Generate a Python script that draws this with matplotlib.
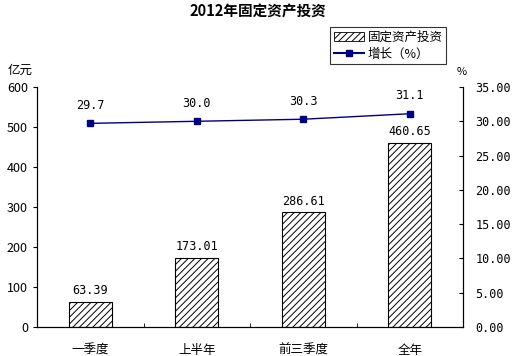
import matplotlib
matplotlib.use("Agg")
import matplotlib.pyplot as plt
from matplotlib.lines import Line2D
from matplotlib.patches import Patch

plt.rcParams['font.family'] = ['Noto Sans CJK SC', 'DejaVu Sans']
plt.rcParams['hatch.linewidth'] = 0.7

categories = ['一季度', '上半年', '前三季度', '全年']
investment = [63.39, 173.01, 286.61, 460.65]
growth = [29.7, 30.0, 30.3, 31.1]
left_ticks = [0, 100, 200, 300, 400, 500, 600]
right_ticks = [0, 5, 10, 15, 20, 25, 30, 35]

fig = plt.figure(figsize=(5.18, 3.56), dpi=100)
ax = fig.add_axes([37/518, 1-327/356, 426/518, 240/356])
ax2 = ax.twinx()

x = list(range(len(categories)))
ax.bar(x, investment, width=0.4, color='white', edgecolor='black', hatch='/////', linewidth=0.8, zorder=2)
for xi, v in zip(x, investment):
    ax.text(xi, v + 12, f'{v:.2f}', ha='center', va='bottom', fontsize=8.5, family='DejaVu Sans Mono')

ax2.plot(x, growth, color='#000080', marker='s', markersize=4.5, linewidth=1.0,
         markerfacecolor='#000080', zorder=3)
for xi, v in zip(x, growth):
    ax2.text(xi, v + 1.7, f'{v:.1f}', ha='center', va='bottom', fontsize=8.5, family='DejaVu Sans Mono')

ax.set_xlim(-0.5, len(categories) - 0.5)
ax.set_ylim(0, 600)
ax2.set_ylim(0, 35)
ax.set_yticks(left_ticks)
ax.set_yticklabels([str(t) for t in left_ticks], fontsize=9)
ax2.set_yticks(right_ticks)
ax2.set_yticklabels([f'{t:.2f}' for t in right_ticks], fontsize=8.5, family='DejaVu Sans Mono')
ax.set_xticks(x)
ax.set_xticklabels(categories, fontsize=9)
ax.tick_params(axis='x', length=0, pad=12)
ax.set_xticks([0.5, 1.5, 2.5], minor=True)
ax.tick_params(axis='x', which='minor', direction='in', length=3)
ax.tick_params(axis='y', direction='out', length=3, width=0.8)
ax2.tick_params(axis='y', direction='in', length=3, width=0.8, pad=9)

for a in (ax, ax2):
    a.spines['top'].set_visible(False)
    for s in a.spines.values():
        s.set_linewidth(0.8)

fig.text(258/518, 1-12/356, '2012年固定资产投资', ha='center', va='center', fontsize=10.5, fontweight='bold')
fig.text(20/518, 1-70/356, '亿元', ha='center', va='center', fontsize=9)
fig.text(462/518, 1-72/356, '%', ha='center', va='center', fontsize=8)

handles = [Patch(facecolor='white', edgecolor='black', hatch='/////', linewidth=0.6),
           Line2D([0], [0], color='#000080', marker='s', markersize=4.5, markerfacecolor='#000080')]
leg = fig.legend(handles, ['固定资产投资', '增长（%）'], loc='upper left',
                 bbox_to_anchor=(330/518, 1-27/356), frameon=True, fancybox=False,
                 edgecolor='black', fontsize=9, handlelength=2.4, handleheight=0.8,
                 handletextpad=0.3, borderpad=0.3, labelspacing=0.3, borderaxespad=0)
leg.get_frame().set_linewidth(0.8)

fig.savefig('out.png', dpi=100)
